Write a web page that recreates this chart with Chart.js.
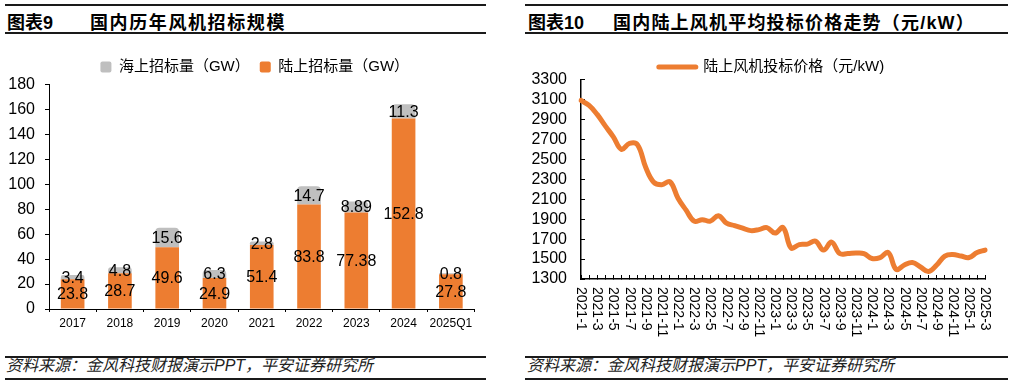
<!DOCTYPE html>
<html><head><meta charset="utf-8">
<script src="https://cdn.jsdelivr.net/npm/chart.js@4/dist/chart.umd.min.js"></script>
<style>
html,body{margin:0;padding:0;background:#fff;width:1014px;height:386px;overflow:hidden;position:relative;font-family:"Liberation Sans","Noto Sans CJK SC",sans-serif;}
.rule{position:absolute;background:#1a1a1a;}
.title{position:absolute;font-weight:bold;font-size:18px;color:#000;line-height:20px;white-space:nowrap;}
.foot{position:absolute;font-style:italic;font-size:16px;color:#222;line-height:18px;white-space:nowrap;}
canvas{position:absolute;}
</style></head>
<body>
<div class="rule" style="left:5px;top:4px;width:481px;height:2px"></div>
<div class="title" style="left:7px;top:13px">图表9</div>
<div class="title" style="left:90px;top:13px;letter-spacing:1.6px">国内历年风机招标规模</div>
<div class="rule" style="left:5px;top:32px;width:481px;height:2px"></div>
<div class="rule" style="left:5px;top:356px;width:481px;height:1.5px"></div>
<div class="foot" style="left:6px;top:357px">资料来源：金风科技财报演示PPT，平安证券研究所</div>
<div class="rule" style="left:5px;top:378px;width:481px;height:2px"></div>

<div class="rule" style="left:525px;top:4px;width:483px;height:2px"></div>
<div class="title" style="left:528px;top:13px">图表10</div>
<div class="title" style="left:613px;top:13px;letter-spacing:1.2px">国内陆上风机平均投标价格走势（元/kW）</div>
<div class="rule" style="left:525px;top:32px;width:483px;height:2px"></div>
<div class="rule" style="left:525px;top:356px;width:483px;height:1.5px"></div>
<div class="foot" style="left:527px;top:357px">资料来源：金风科技财报演示PPT，平安证券研究所</div>
<div class="rule" style="left:525px;top:378px;width:483px;height:2px"></div>

<canvas id="c1" width="490" height="300" style="left:0px;top:40px"></canvas>
<canvas id="c2" width="509" height="305" style="left:505px;top:40px"></canvas>
<script>
// ---- data ----
const years = ['2017','2018','2019','2020','2021','2022','2023','2024','2025Q1'];
const onshoreGW = [23.8, 28.7, 49.6, 24.9, 51.4, 83.8, 77.38, 152.8, 27.8];
const offshoreGW = [3.4, 4.8, 15.6, 6.3, 2.8, 14.7, 8.89, 11.3, 0.8];
const barYMin = 0, barYMax = 180, barYStep = 20;

const months = ['2021-1','2021-2','2021-3','2021-4','2021-5','2021-6','2021-7','2021-8','2021-9','2021-10','2021-11','2021-12',
  '2022-1','2022-2','2022-3','2022-4','2022-5','2022-6','2022-7','2022-8','2022-9','2022-10','2022-11','2022-12',
  '2023-1','2023-2','2023-3','2023-4','2023-5','2023-6','2023-7','2023-8','2023-9','2023-10','2023-11','2023-12',
  '2024-1','2024-2','2024-3','2024-4','2024-5','2024-6','2024-7','2024-8','2024-9','2024-10','2024-11','2024-12',
  '2025-1','2025-2','2025-3'];
const price = [3090, 3040, 2950, 2835, 2725, 2600, 2660, 2645, 2420, 2270, 2245, 2275,
  2110, 1990, 1880, 1895, 1880, 1935, 1860, 1835, 1810, 1785, 1795, 1815,
  1760, 1815, 1610, 1645, 1650, 1680, 1590, 1670, 1555, 1555, 1560, 1555,
  1505, 1515, 1565, 1395, 1440, 1465, 1420, 1375, 1440, 1530, 1545, 1530,
  1515, 1565, 1590];
const lineYMin = 1300, lineYMax = 3300, lineYStep = 200;

const FONT = '"Liberation Sans","Noto Sans CJK SC",sans-serif';
const ORANGE = '#ED7D31', GREY = '#BFBFBF';

// category scale whose rotated labels read top-to-bottom
class VCategoryScale extends Chart.CategoryScale {
  _computeLabelItems(chartArea) {
    const items = super._computeLabelItems(chartArea);
    for (const it of items) {
      const o = it.options;
      if (o.rotation) {
        const lh = it.font.lineHeight;
        o.rotation = Math.PI / 2;
        o.textAlign = 'left';
        o.translation = [o.translation[0] + lh, o.translation[1]];
      }
    }
    return items;
  }
}
VCategoryScale.id = 'vcategory';
VCategoryScale.defaults = {};
Chart.registry.addScales(VCategoryScale);

// linear scale whose tick labels are not clipped to the axis box
class FreeLinearScale extends Chart.LinearScale {
  _computeLabelArea() { return undefined; }
}
FreeLinearScale.id = 'freelinear';
FreeLinearScale.defaults = {};
Chart.registry.addScales(FreeLinearScale);

const barLabels = {
  id: 'barLabels',
  afterDatasetsDraw(chart) {
    const ctx = chart.ctx;
    ctx.save();
    ctx.font = '16px ' + FONT;
    ctx.fillStyle = '#000';
    ctx.textAlign = 'center';
    ctx.textBaseline = 'middle';
    chart.data.datasets.forEach((ds, di) => {
      const meta = chart.getDatasetMeta(di);
      meta.data.forEach((bar, i) => {
        ctx.fillText(String(ds.data[i]), bar.x, (bar.y + bar.base) / 2 + 1);
      });
    });
    ctx.restore();
  }
};

new Chart(document.getElementById('c1'), {
  type: 'bar',
  data: {
    labels: years,
    datasets: [
      {label: '陆上招标量（GW）', data: onshoreGW, backgroundColor: ORANGE, stack: 's', categoryPercentage: 0.5, barPercentage: 1},
      {label: '海上招标量（GW）', data: offshoreGW, backgroundColor: GREY, stack: 's', borderRadius: 4, borderSkipped: 'start', categoryPercentage: 0.5, barPercentage: 1}
    ]
  },
  options: {
    responsive: false, animation: false,
    layout: {padding: {top: 9.5, left: 35, right: 15.5, bottom: 0}},
    plugins: {
      legend: {position: 'top', reverse: true,
        labels: {boxWidth: 11, boxHeight: 11, padding: 10, color: '#000', useBorderRadius: true, borderRadius: 2, font: {size: 15, family: FONT}}},
      tooltip: {enabled: false}
    },
    scales: {
      x: {stacked: true,
        grid: {display: true, drawOnChartArea: false, drawTicks: true, tickLength: 3, color: '#000', offset: true},
        border: {display: true, color: '#000', width: 1},
        ticks: {color: '#000', font: {size: 12, family: FONT}, padding: 4, maxRotation: 0, autoSkip: false},
        afterFit(s) { s.height = 31; }},
      y: {type: 'freelinear', stacked: true, min: barYMin, max: barYMax,
        ticks: {stepSize: barYStep, color: '#000', font: {size: 16, family: FONT}, padding: 10, autoSkip: false},
        grid: {drawOnChartArea: false, tickLength: 4, color: '#000'},
        border: {display: true, color: '#000', width: 1},
        afterFit(s) { s.width = 14; }}
    }
  },
  plugins: [barLabels]
});

new Chart(document.getElementById('c2'), {
  type: 'line',
  data: {
    labels: months,
    datasets: [{label: '陆上风机投标价格（元/kW)', data: price, borderColor: ORANGE, backgroundColor: ORANGE,
      borderWidth: 5, pointRadius: 0, tension: 0.4, borderCapStyle: 'round', borderJoinStyle: 'round'}]
  },
  options: {
    responsive: false, animation: false,
    layout: {padding: {top: 9.5, left: 43, right: 19, bottom: 0}},
    plugins: {
      legend: {position: 'top', maxHeight: 30,
        labels: {usePointStyle: true, pointStyle: 'line', pointStyleWidth: 37, padding: 10, color: '#000', font: {size: 15, family: FONT},
          generateLabels(chart) {
            const items = Chart.defaults.plugins.legend.labels.generateLabels(chart);
            items.forEach(it => { it.lineCap = 'round'; it.lineWidth = 5; it.strokeStyle = ORANGE; });
            return items;
          }}},
      tooltip: {enabled: false}
    },
    scales: {
      x: {type: 'vcategory', offset: false,
        grid: {display: true, drawOnChartArea: false, drawTicks: true, tickLength: -4, color: '#000', offset: false},
        border: {display: true, color: '#000', width: 1.5},
        ticks: {color: '#000', font: {size: 14, family: FONT}, padding: 12, minRotation: 90, maxRotation: 90, autoSkip: false,
          callback: function(v, i) { return i % 2 === 0 ? this.getLabelForValue(v) : ''; }},
        afterFit(s) { s.height = 66; }},
      y: {type: 'freelinear', min: lineYMin, max: lineYMax,
        ticks: {stepSize: lineYStep, color: '#000', font: {size: 16, family: FONT}, padding: 18, autoSkip: false, format: {useGrouping: false}},
        grid: {drawOnChartArea: false, tickLength: -4, color: '#000'},
        border: {display: true, color: '#000', width: 1.5},
        afterFit(s) { s.width = 33; }}
    }
  }
});
</script>
</body></html>
